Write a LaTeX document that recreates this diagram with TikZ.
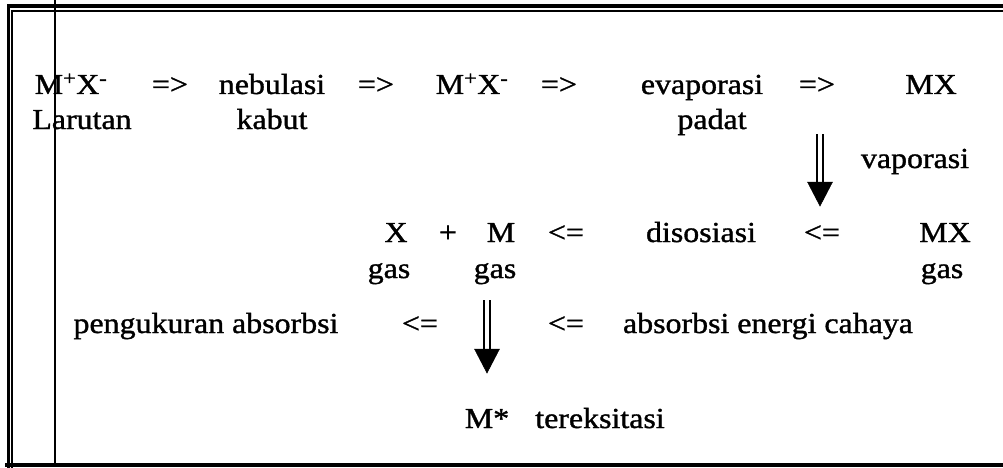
\documentclass[tikz,border=0pt]{standalone}
\usepackage{fontspec}
\setmainfont{Liberation Serif}[FakeStretch=1.1, FakeBold=1.2]
\tikzset{
  lbl/.style={anchor=base, inner sep=0pt, font=\fontsize{29}{34}\selectfont},
  shaft/.style={double, double distance=4.5pt, line width=1.6pt},
  head/.style={fill=black, draw=black, line width=0.5pt},
}
\begin{document}
\begin{tikzpicture}[x=1pt,y=-1pt]
\useasboundingbox (0,0) rectangle (1003,468);
\fill[white] (0,0) rectangle (1003,468);
\begin{scope}
\clip (0,0) rectangle (1003,468);
% frame
\draw[line width=3.5pt] (8.5,1100) -- (8.5,6) -- (1020,6);
\draw[line width=1.6pt] (12,1100) -- (12,11) -- (1020,11);
\draw[line width=3.5pt] (5,465) -- (1020,465);
\draw[line width=2.2pt] (55,0) -- (55,465);
\end{scope}
% row 1
\node[lbl] (a1) at (71,94) {M\textsuperscript{+}X\textsuperscript{-}};
\node[lbl] (r1) at (170,94) {=>};
\node[lbl] (a2) at (272,94) {nebulasi};
\node[lbl] (r2) at (376,94) {=>};
\node[lbl] (a3) at (472,94) {M\textsuperscript{+}X\textsuperscript{-}};
\node[lbl] (r3) at (559,94) {=>};
\node[lbl] (a4) at (702,94) {evaporasi};
\node[lbl] (r4) at (817,94) {=>};
\node[lbl] (a5) at (931,94) {MX};
% row 2
\node[lbl] (b1) at (82,129) {Larutan};
\node[lbl] (b2) at (272,129) {kabut};
\node[lbl] (b4) at (712,129) {padat};
\node[lbl] (v) at (915,168) {vaporasi};
% row 3
\node[lbl] (c1) at (396,242) {X};
\node[lbl] (c2) at (448,242) {+};
\node[lbl] (c3) at (501,242) {M};
\node[lbl] (l1) at (566,242) {<=};
\node[lbl] (c4) at (701,242) {disosiasi};
\node[lbl] (l2) at (822,242) {<=};
\node[lbl] (c5) at (945,242) {MX};
% row 4
\node[lbl] (d1) at (389,278) {gas};
\node[lbl] (d2) at (495,278) {gas};
\node[lbl] (d3) at (942,278) {gas};
% row 5
\node[lbl] (e1) at (206,333) {pengukuran absorbsi};
\node[lbl] (l3) at (420,333) {<=};
\node[lbl] (l4) at (566,333) {<=};
\node[lbl] (e2) at (768,333) {absorbsi energi cahaya};
% row 6
\node[lbl] (f1) at (487,428) {M*};
\node[lbl] (f2) at (600,428) {tereksitasi};
% vertical arrows
\coordinate (s1) at (820,134);
\coordinate (h1) at (820,182);
\coordinate (t1) at (820,206);
\draw[shaft] (s1) -- (h1);
\path[head] ([xshift=-12.5pt]h1) -- ([xshift=12.5pt]h1) -- (t1) -- cycle;
\coordinate (s2) at (487,300);
\coordinate (h2) at (487,349);
\coordinate (t2) at (487,373);
\draw[shaft] (s2) -- (h2);
\path[head] ([xshift=-12.5pt]h2) -- ([xshift=12.5pt]h2) -- (t2) -- cycle;
\end{tikzpicture}
\end{document}
